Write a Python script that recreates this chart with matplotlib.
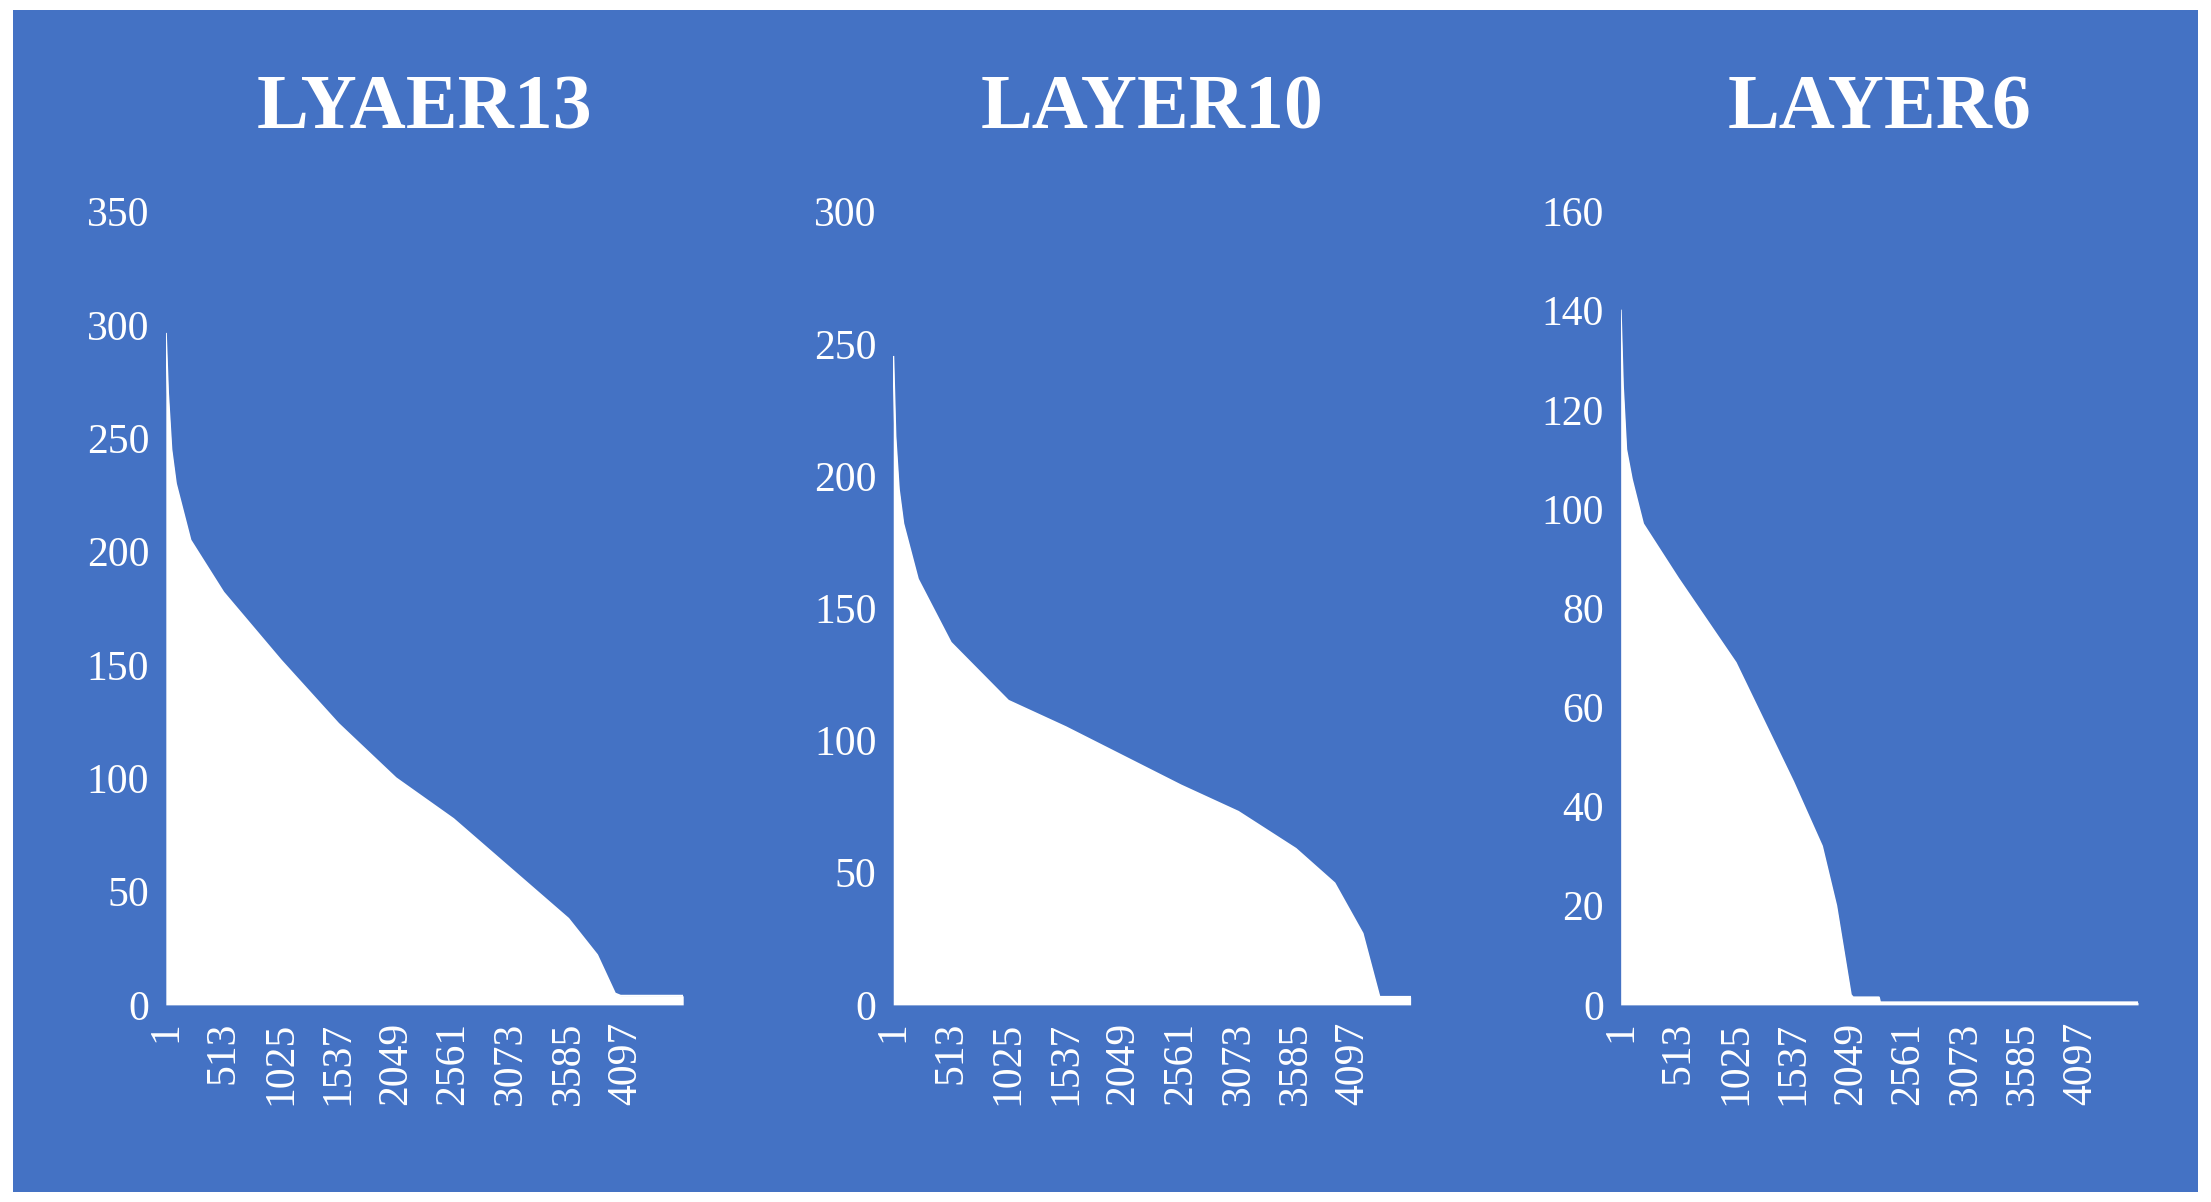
import matplotlib.pyplot as plt
from matplotlib.patches import Rectangle

BLUE = "#4472C4"

titles = ["LYAER13", "LAYER10", "LAYER6"]
ylims = [350, 300, 160]
ysteps = [50, 50, 20]

# sorted magnitudes (index, value)
x13 = [1, 20, 50, 90, 220, 513, 1025, 1537, 2049, 2561, 3073, 3585, 3841, 4000, 4050, 4608]
y13 = [296, 270, 245, 230, 205, 182, 152, 124, 100, 82, 60, 38, 22, 5, 4, 4]
x10 = [1, 20, 50, 90, 220, 513, 1025, 1537, 2049, 2561, 3073, 3585, 3930, 4180, 4330, 4350, 4608]
y10 = [245, 215, 195, 182, 161, 137, 115, 105, 94, 83, 73, 59, 46, 27, 3, 3, 3]
x6 = [1, 20, 50, 100, 200, 513, 1025, 1537, 1793, 1920, 2050, 2070, 2300, 2310, 4608]
y6 = [140, 125, 112, 106, 97, 86, 69, 45, 32, 20, 2, 1.5, 1.5, 0.5, 0.5]

xs = [x13, x10, x6]
ys = [y13, y10, y6]
xticks = [1, 513, 1025, 1537, 2049, 2561, 3073, 3585, 4097]

fig = plt.figure(figsize=(22.11, 12.02), dpi=100, facecolor="white")
bg = fig.add_axes([0, 0, 1, 1], zorder=-10)
bg.add_patch(Rectangle((0.006, 0.008), 0.988, 0.984, facecolor=BLUE, edgecolor="none"))
bg.set_xlim(0, 1)
bg.set_ylim(0, 1)
bg.axis("off")

lefts = [0.075, 0.404, 0.733]
for i in range(3):
    ax = fig.add_axes([lefts[i], 0.164, 0.234, 0.66])
    ax.set_facecolor("none")
    ax.fill_between(xs[i], ys[i], 0, color="white", lw=0)
    ax.plot(xs[i], ys[i], color="white", lw=1.5)
    ax.set_xlim(1, 4608)
    ax.set_ylim(0, ylims[i])
    ax.set_yticks(range(0, ylims[i] + 1, ysteps[i]))
    ax.set_xticks(xticks)
    ax.set_xticklabels([str(t) for t in xticks], rotation=90)
    for s in ax.spines.values():
        s.set_visible(False)
    ax.tick_params(length=0, colors="white", labelsize=30, pad=12)
    for lab in ax.get_xticklabels() + ax.get_yticklabels():
        lab.set_fontfamily("Liberation Serif")
    ax.set_title(titles[i], color="white", fontsize=56, fontweight="bold",
                 family="Liberation Serif", pad=60)

fig.savefig("out.png", dpi=100, facecolor="white")
